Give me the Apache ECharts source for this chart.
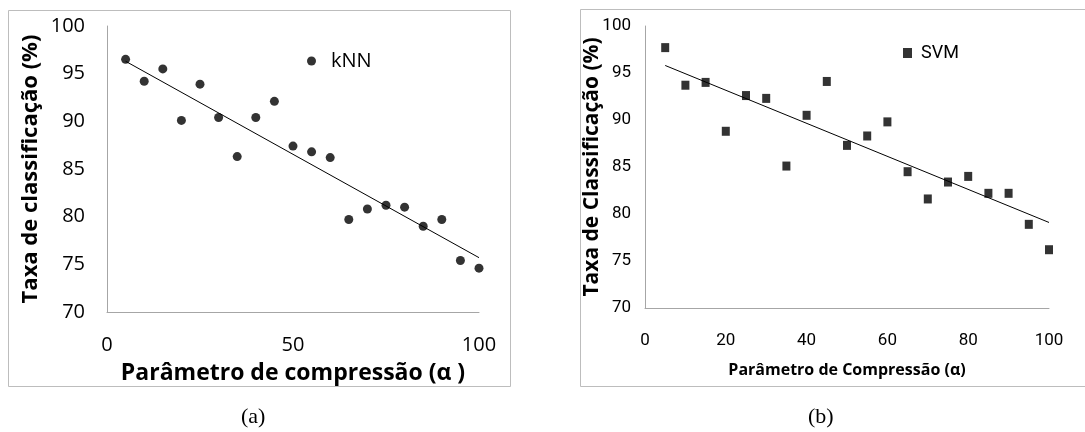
<!DOCTYPE html>
<html>
<head>
<meta charset="utf-8">
<script src="https://cdn.jsdelivr.net/npm/echarts@6/dist/echarts.min.js"></script>
<style>
  html, body { margin: 0; padding: 0; background: #fff; }
  #chart { width: 1085px; height: 432px; }
</style>
</head>
<body>
<div id="chart"></div>
<script>
// compression parameter (alpha) - shared by both panels
var alphas = [5, 10, 15, 20, 25, 30, 35, 40, 45, 50, 55, 60, 65, 70, 75, 80, 85, 90, 95, 100];

// (a) kNN classification rate (%)
var knnRates = [96.5, 94.2, 95.5, 90.1, 93.9, 90.4, 86.3, 90.4, 92.1, 87.4, 86.8, 86.2, 79.7, 80.8, 81.2, 81.0, 79.0, 79.7, 75.4, 74.6];
// (b) SVM classification rate (%)
var svmRates = [97.7, 93.7, 94.0, 88.8, 92.6, 92.3, 85.1, 90.5, 94.1, 87.3, 88.3, 89.8, 84.5, 81.6, 83.4, 84.0, 82.2, 82.2, 78.9, 76.2];

// linear trend end points
var knnTrend = [[5, 96.3], [100, 75.7]];
var svmTrend = [[5, 95.8], [100, 79.1]];

function pairs(xs, ys) {
    var out = [];
    for (var i = 0; i < xs.length; i++) {
        out.push([xs[i], ys[i]]);
    }
    return out;
}

var fontA = '"Open Sans", sans-serif';
var fontB = 'Roboto, "Open Sans", sans-serif';
var axisGray = '#a6a6a6';

var chart = echarts.init(document.getElementById('chart'), null, {renderer: 'canvas'});

var option = {
    animation: false,
    backgroundColor: '#fff',
    grid: [
        {left: 107, right: 606, top: 26, bottom: 120},
        {left: 645, right: 36, top: 26, bottom: 124}
    ],
    legend: [
        {
            data: [{name: 'kNN', icon: 'circle'}],
            left: 302, top: 46,
            itemWidth: 9, itemHeight: 9, itemGap: 6,
            textStyle: {fontFamily: fontA, fontSize: 20, color: '#000', padding: [0, 0, 0, 10]}
        },
        {
            data: [{name: 'SVM', icon: 'rect'}],
            left: 898, top: 39,
            itemWidth: 9, itemHeight: 10, itemGap: 6,
            textStyle: {fontFamily: fontB, fontSize: 18, color: '#000', padding: [0, 0, 0, 4]}
        }
    ],
    xAxis: [
        {
            type: 'value', gridIndex: 0, min: 0, max: 100, interval: 50,
            name: 'Parâmetro de compressão (α )', nameLocation: 'middle', nameGap: 50,
            nameMoveOverlap: false,
            nameTextStyle: {fontFamily: fontA, fontSize: 23, fontWeight: 'bold', color: '#000'},
            axisLine: {lineStyle: {color: axisGray}},
            axisTick: {show: false},
            splitLine: {show: false},
            axisLabel: {margin: 23, fontFamily: fontA, fontSize: 20, color: '#000'}
        },
        {
            type: 'value', gridIndex: 1, min: 0, max: 100, interval: 20,
            name: 'Parâmetro de Compressão (α)', nameLocation: 'middle', nameGap: 54,
            nameMoveOverlap: false,
            nameTextStyle: {fontFamily: fontA, fontSize: 16, fontWeight: 'bold', color: '#000'},
            axisLine: {lineStyle: {color: axisGray}},
            axisTick: {show: false},
            splitLine: {show: false},
            axisLabel: {margin: 24, fontFamily: fontB, fontSize: 17, color: '#000'}
        }
    ],
    yAxis: [
        {
            type: 'value', gridIndex: 0, min: 70, max: 100, interval: 5,
            name: 'Taxa de classificação (%)', nameLocation: 'middle', nameGap: 65,
            nameMoveOverlap: false,
            nameTextStyle: {fontFamily: fontA, fontSize: 22, fontWeight: 'bold', color: '#000'},
            axisLine: {show: true, lineStyle: {color: axisGray}},
            axisTick: {show: false},
            splitLine: {show: false},
            axisLabel: {margin: 22, fontFamily: fontA, fontSize: 20, color: '#000'}
        },
        {
            type: 'value', gridIndex: 1, min: 70, max: 100, interval: 5,
            name: 'Taxa de Classificação (%)', nameLocation: 'middle', nameGap: 42,
            nameMoveOverlap: false,
            nameTextStyle: {fontFamily: fontA, fontSize: 21, fontWeight: 'bold', color: '#000'},
            axisLine: {show: true, lineStyle: {color: axisGray}},
            axisTick: {show: false},
            splitLine: {show: false},
            axisLabel: {margin: 14, fontFamily: fontB, fontSize: 17, color: '#000'}
        }
    ],
    series: [
        {
            name: 'kNN', type: 'scatter', xAxisIndex: 0, yAxisIndex: 0,
            symbol: 'circle', symbolSize: 9,
            itemStyle: {color: '#000'},
            data: pairs(alphas, knnRates)
        },
        {
            name: 'kNN trend', type: 'line', xAxisIndex: 0, yAxisIndex: 0,
            symbol: 'none', lineStyle: {color: '#000', width: 1},
            data: knnTrend
        },
        {
            name: 'SVM', type: 'scatter', xAxisIndex: 1, yAxisIndex: 1,
            symbol: 'rect', symbolSize: [8, 9],
            itemStyle: {color: '#000'},
            data: pairs(alphas, svmRates)
        },
        {
            name: 'SVM trend', type: 'line', xAxisIndex: 1, yAxisIndex: 1,
            symbol: 'none', lineStyle: {color: '#000', width: 1},
            data: svmTrend
        }
    ],
    graphic: [
        // chart frames
        {type: 'rect', shape: {x: 8.5, y: 10.5, width: 502, height: 376},
            style: {fill: 'none', stroke: '#bdbdbd', lineWidth: 1}, silent: true},
        {type: 'rect', shape: {x: 580.5, y: 9.5, width: 520, height: 377},
            style: {fill: 'none', stroke: '#bdbdbd', lineWidth: 1}, silent: true},
        // captions
        {type: 'text', left: 241, top: 406,
            style: {text: '(a)', font: '22px "Liberation Serif", serif', fill: '#000'}},
        {type: 'text', left: 808, top: 406,
            style: {text: '(b)', font: '22px "Liberation Serif", serif', fill: '#000'}}
    ]
};

chart.setOption(option);
</script>
</body>
</html>
